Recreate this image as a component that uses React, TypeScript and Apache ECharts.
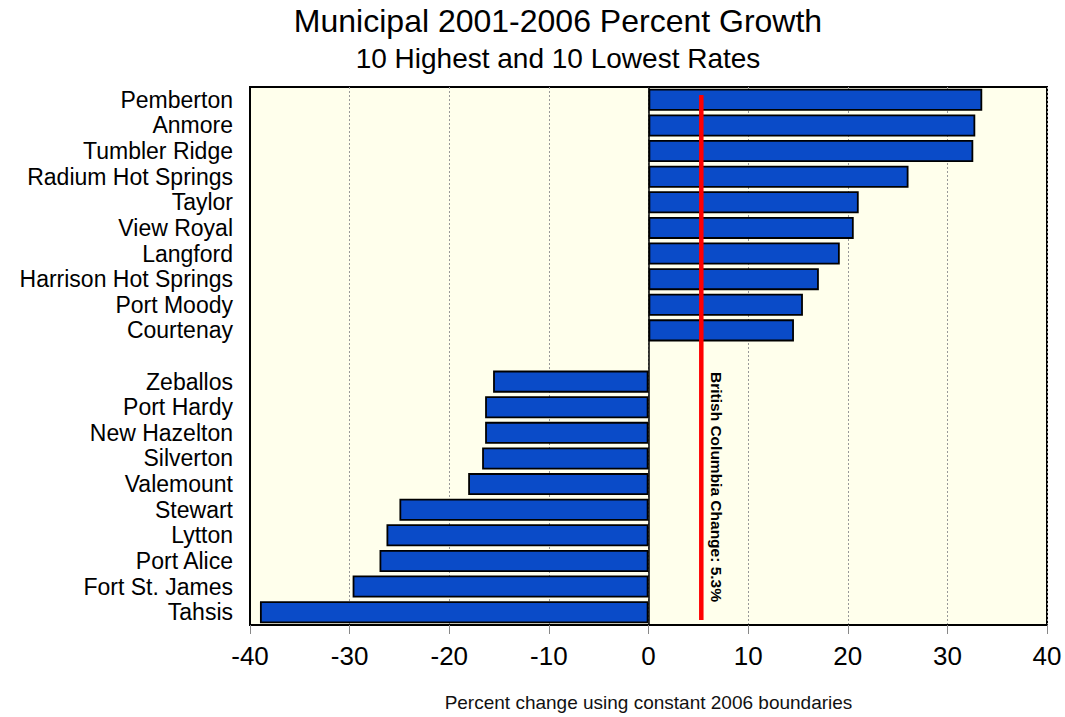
import React, { useEffect, useRef } from "react";
import * as echarts from "echarts";

const categories = [
  "Pemberton", "Anmore", "Tumbler Ridge", "Radium Hot Springs", "Taylor",
  "View Royal", "Langford", "Harrison Hot Springs", "Port Moody", "Courtenay",
  "",
  "Zeballos", "Port Hardy", "New Hazelton", "Silverton", "Valemount",
  "Stewart", "Lytton", "Port Alice", "Fort St. James", "Tahsis",
];
const growth: (number | string)[] = [
  33.5, 32.8, 32.6, 26.1, 21.1, 20.6, 19.2, 17.1, 15.5, 14.6,
  "-",
  -15.6, -16.4, -16.4, -16.7, -18.1, -25.0, -26.3, -27.0, -29.7, -39.0,
];
const bcChange = 5.3;
const xTicks = [-40, -30, -20, -10, 0, 10, 20, 30, 40];
const titleText = "Municipal 2001-2006 Percent Growth";
const subtitleText = "10 Highest and 10 Lowest Rates";
const xAxisName = "Percent change using constant 2006 boundaries";
const bcLabel = "British Columbia Change: 5.3%";

const FONT = "'Liberation Sans', Arial, Helvetica, sans-serif";

export default function App() {
  const ref = useRef<HTMLDivElement>(null);
  useEffect(() => {
    if (!ref.current) return;
    const chart = echarts.init(ref.current, undefined, { renderer: "svg" });
    const gridTop = 87;
    const gridBottom = 92;
    chart.setOption({
      animation: false,
      backgroundColor: "#ffffff",
      textStyle: { fontFamily: FONT },
      grid: {
        left: 250,
        right: 18,
        top: gridTop,
        bottom: gridBottom,
        outerBoundsMode: "none",
        containLabel: false,
        show: true,
        backgroundColor: "#ffffec",
        borderColor: "#000",
        borderWidth: 2,
      },
      xAxis: {
        type: "value",
        min: xTicks[0],
        max: xTicks[xTicks.length - 1],
        interval: 10,
        name: xAxisName,
        nameLocation: "middle",
        nameGap: 68,
        nameTextStyle: { fontSize: 19, color: "#111", fontFamily: FONT },
        axisLine: { show: true, onZero: false, lineStyle: { color: "#000", width: 2 } },
        axisTick: { show: true, inside: false, length: 9, lineStyle: { color: "#888", width: 1 } },
        axisLabel: { fontSize: 26, color: "#000", margin: 18, fontFamily: FONT },
        splitLine: { show: true, lineStyle: { color: "#999", type: [2, 2], width: 1 } },
      },
      yAxis: {
        type: "category",
        data: categories,
        inverse: true,
        axisLine: { show: true, onZero: false, lineStyle: { color: "#000", width: 2 } },
        axisTick: { show: false },
        axisLabel: { fontSize: 23, color: "#000", margin: 17, fontFamily: FONT, interval: 0 },
        splitLine: { show: false },
      },
      series: [
        {
          type: "bar",
          data: growth,
          barCategoryGap: "14%",
          itemStyle: { color: "#0a4bc8", borderColor: "#000", borderWidth: 1.8 },
          markLine: {
            silent: true,
            symbol: "none",
            label: { show: false },
            lineStyle: { color: "#000", type: "solid", width: 1.5 },
            data: [{ xAxis: 0 }],
          },
          z: 3,
        },
      ],
    });
    const lineX = chart.convertToPixel({ xAxisIndex: 0 }, bcChange) as number;
    const h = 717;
    chart.setOption({
      graphic: [
        {
          type: "text",
          x: 558,
          y: 5,
          style: { text: titleText, font: `32px ${FONT}`, fill: "#000", align: "center", verticalAlign: "top" },
        },
        {
          type: "text",
          x: 558,
          y: 44,
          style: { text: subtitleText, font: `28px ${FONT}`, fill: "#000", align: "center", verticalAlign: "top" },
        },
        {
          type: "line",
          z: 10,
          shape: { x1: lineX, y1: gridTop + 8, x2: lineX, y2: h - gridBottom - 5 },
          style: { stroke: "#ff0000", lineWidth: 4.5 },
        },
        {
          type: "text",
          z: 10,
          x: lineX + 15,
          y: 487,
          rotation: -Math.PI / 2,
          style: { text: bcLabel, font: `bold 15.5px ${FONT}`, fill: "#000", align: "center", verticalAlign: "middle" },
        },
      ],
    });
    return () => chart.dispose();
  }, []);
  return (
    <div
      ref={ref}
      style={{ position: "fixed", left: 0, top: 0, width: 1065, height: 717 }}
    />
  );
}
